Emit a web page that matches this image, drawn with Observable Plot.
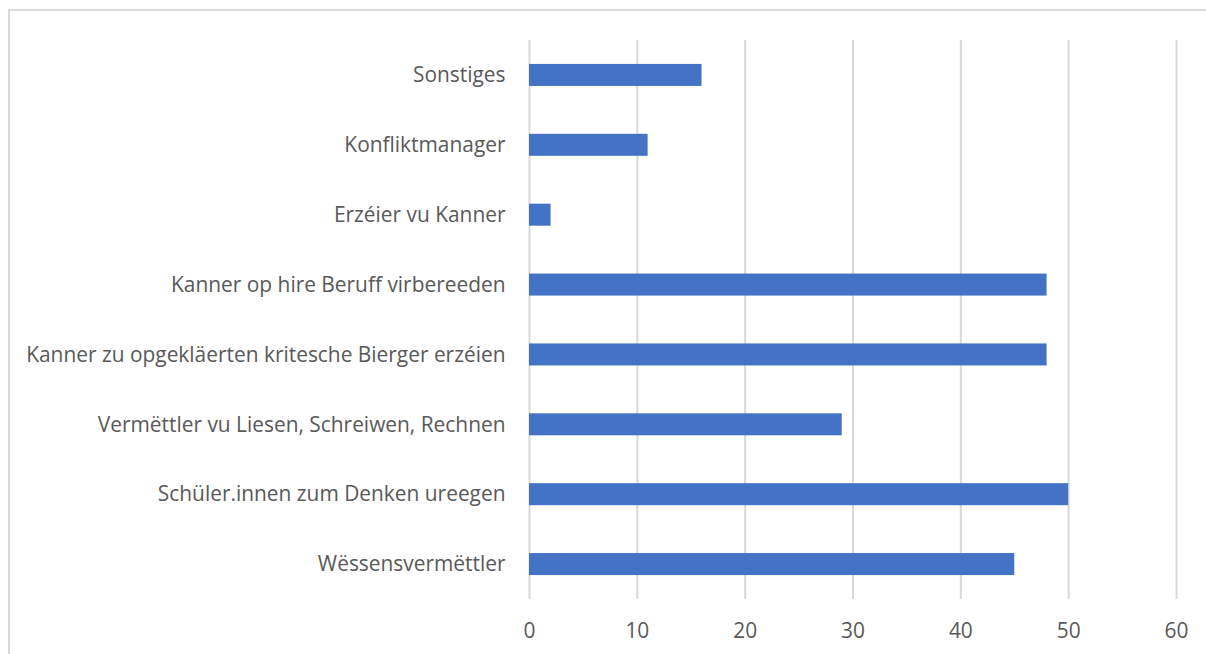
<!DOCTYPE html>
<html>
<head>
<meta charset="utf-8">
<script src="https://cdn.jsdelivr.net/npm/d3@7"></script>
<script src="https://cdn.jsdelivr.net/npm/@observablehq/plot@0.6"></script>
<style>
  html, body { margin: 0; padding: 0; background: #fff; overflow: hidden; }
  #frame { position: absolute; left: 8px; top: 9px; width: 1400px; height: 800px; border: 2px solid #d9d9d9; box-sizing: border-box; }
  #chart { position: absolute; left: 0; top: 0; }
</style>
</head>
<body>
<div id="frame"></div>
<div id="chart"></div>
<script>
const categories = [
  "Wëssensvermëttler",
  "Schüler.innen zum Denken ureegen",
  "Vermëttler vu Liesen, Schreiwen, Rechnen",
  "Kanner zu opgekläerten kritesche Bierger erzéien",
  "Kanner op hire Beruff virbereeden",
  "Erzéier vu Kanner",
  "Konfliktmanager",
  "Sonstiges"
];
const values = [45, 50, 29, 48, 48, 2, 11, 16];
const xTicks = [0, 10, 20, 30, 40, 50, 60];

const data = categories.map((c, i) => ({category: c, value: values[i]}));

const chart = Plot.plot({
  width: 1206,
  height: 654,
  marginLeft: 529,
  marginRight: 30,
  marginTop: 40,
  marginBottom: 55,
  style: {fontFamily: "Open Sans", fontSize: "20.9px", color: "#595959", background: "transparent"},
  x: {domain: [0, 60], ticks: xTicks, tickSize: 0, label: null},
  y: {domain: categories.slice().reverse(), paddingInner: 0.685, paddingOuter: 0.3425, round: false, label: null, tickSize: 0},
  marks: [
    Plot.ruleX(xTicks, {stroke: "#d9d9d9", strokeWidth: 2, strokeOpacity: 1}),
    Plot.barX(data, {x: "value", y: "category", fill: "#4472c4"}),
    Plot.axisX({ticks: xTicks, tickSize: 0, tickPadding: 24, fontSize: 20.9, fill: "#595959"}),
    Plot.axisY({tickSize: 0, tickPadding: 24, fontSize: 20.9, fill: "#595959"})
  ]
});
document.getElementById("chart").appendChild(chart);
</script>
</body>
</html>
